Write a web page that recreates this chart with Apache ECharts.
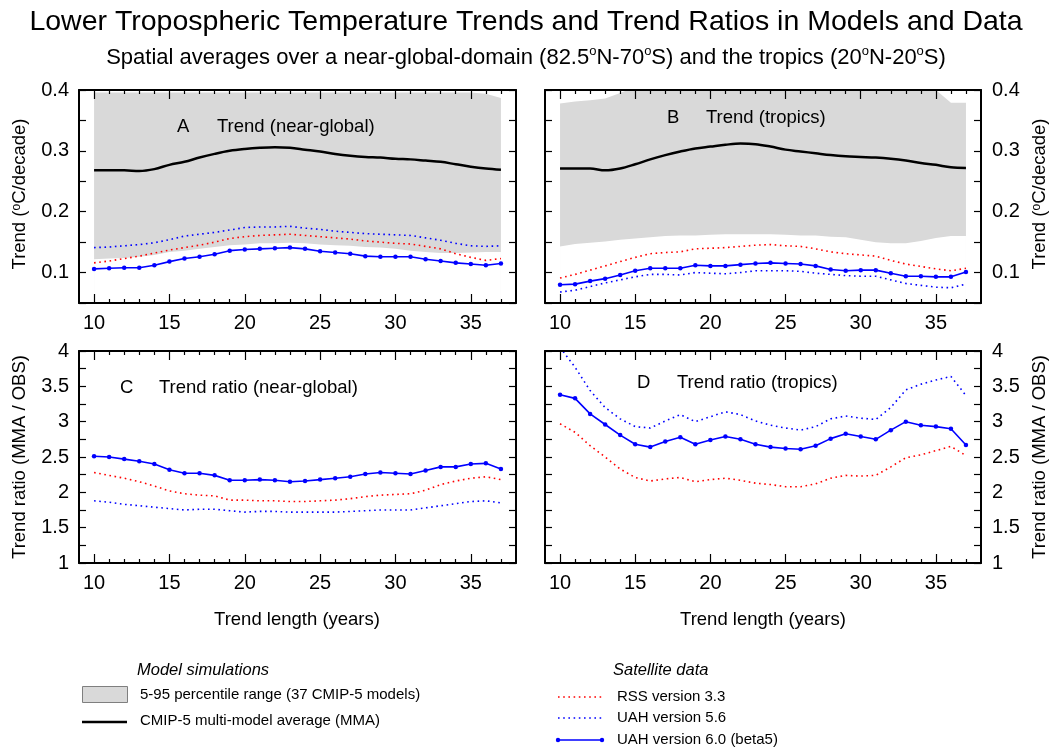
<!DOCTYPE html>
<html>
<head>
<meta charset="utf-8">
<script src="https://cdn.jsdelivr.net/npm/echarts@6/dist/echarts.min.js"></script>
<style>
html,body{margin:0;padding:0;background:#fff;}
#chart{width:1052px;height:748px;}
</style>
</head>
<body>
<div id="chart"></div>
<script>
// ---------------- data ----------------
const years = [10,11,12,13,14,15,16,17,18,19,20,21,22,23,24,25,26,27,28,29,30,31,32,33,34,35,36,37];
const xMajorTicks = [10,15,20,25,30,35];
const trendTicks = [0.05,0.1,0.15,0.2,0.25,0.3,0.35,0.4];
const trendLabels = [0.1,0.2,0.3,0.4];
const ratioTicks = [1,1.25,1.5,1.75,2,2.25,2.5,2.75,3,3.25,3.5,3.75,4];
const ratioLabels = [1,1.5,2,2.5,3,3.5,4];

// Panel A: near-global trends (degC/decade)
const globalMMA   = [0.268,0.268,0.268,0.267,0.270,0.277,0.282,0.289,0.295,0.300,0.303,0.305,0.306,0.305,0.302,0.299,0.295,0.292,0.290,0.289,0.287,0.286,0.284,0.282,0.278,0.274,0.271,0.269];
const globalUpper = [0.396,0.396,0.396,0.396,0.396,0.396,0.396,0.396,0.396,0.396,0.396,0.396,0.396,0.396,0.396,0.396,0.396,0.396,0.396,0.396,0.396,0.396,0.396,0.396,0.396,0.396,0.394,0.387];
const globalLower = [0.122,0.123,0.124,0.126,0.129,0.134,0.136,0.139,0.142,0.145,0.146,0.148,0.148,0.149,0.148,0.146,0.145,0.144,0.142,0.141,0.139,0.136,0.134,0.132,0.132,0.133,0.134,0.134];
const globalRSS   = [0.116,0.119,0.123,0.127,0.132,0.137,0.141,0.145,0.150,0.156,0.159,0.161,0.162,0.163,0.161,0.159,0.157,0.155,0.152,0.150,0.148,0.147,0.143,0.139,0.131,0.125,0.120,0.123];
const globalUAH56 = [0.141,0.142,0.144,0.146,0.149,0.154,0.160,0.163,0.166,0.170,0.174,0.175,0.175,0.176,0.173,0.171,0.168,0.166,0.164,0.163,0.162,0.161,0.157,0.153,0.148,0.144,0.143,0.144];
const globalUAH60 = [0.106,0.107,0.108,0.108,0.112,0.118,0.123,0.126,0.130,0.136,0.138,0.139,0.140,0.141,0.139,0.135,0.133,0.131,0.127,0.126,0.126,0.126,0.122,0.119,0.116,0.114,0.112,0.115];

// Panel B: tropical trends (degC/decade)
const tropMMA   = [0.271,0.271,0.271,0.268,0.271,0.278,0.286,0.293,0.299,0.304,0.307,0.310,0.312,0.311,0.307,0.302,0.299,0.296,0.293,0.291,0.290,0.289,0.287,0.284,0.280,0.277,0.273,0.272];
const tropUpper = [0.378,0.381,0.383,0.386,0.395,0.405,0.405,0.405,0.405,0.405,0.405,0.405,0.405,0.405,0.405,0.405,0.405,0.405,0.405,0.405,0.405,0.405,0.405,0.405,0.405,0.400,0.379,0.379];
const tropLower = [0.143,0.147,0.149,0.151,0.154,0.156,0.158,0.160,0.161,0.161,0.162,0.163,0.163,0.163,0.163,0.162,0.161,0.161,0.159,0.158,0.154,0.150,0.148,0.148,0.152,0.157,0.160,0.160];
const tropRSS   = [0.091,0.097,0.104,0.111,0.118,0.125,0.131,0.133,0.134,0.139,0.140,0.141,0.143,0.145,0.146,0.144,0.143,0.139,0.134,0.131,0.129,0.127,0.120,0.114,0.110,0.106,0.103,0.107];
const tropUAH56 = [0.068,0.071,0.077,0.083,0.088,0.093,0.097,0.097,0.096,0.100,0.099,0.098,0.100,0.103,0.103,0.103,0.102,0.099,0.097,0.095,0.094,0.094,0.088,0.082,0.079,0.076,0.075,0.081];
const tropUAH60 = [0.080,0.081,0.086,0.090,0.096,0.103,0.107,0.107,0.107,0.112,0.111,0.111,0.113,0.115,0.116,0.115,0.114,0.111,0.105,0.103,0.104,0.104,0.099,0.094,0.094,0.093,0.093,0.101];

// Panel C: near-global trend ratios (MMA / OBS)
const globalRatioRSS   = [2.28,2.24,2.20,2.15,2.09,2.02,1.98,1.96,1.95,1.89,1.89,1.88,1.88,1.87,1.87,1.88,1.89,1.91,1.94,1.96,1.97,1.98,2.03,2.11,2.16,2.20,2.22,2.18];
const globalRatioUAH56 = [1.88,1.86,1.83,1.81,1.79,1.77,1.75,1.76,1.76,1.74,1.72,1.73,1.73,1.72,1.72,1.72,1.72,1.73,1.74,1.75,1.75,1.75,1.78,1.81,1.84,1.87,1.88,1.85];
const globalRatioUAH60 = [2.51,2.50,2.47,2.44,2.40,2.32,2.27,2.27,2.24,2.17,2.17,2.18,2.17,2.15,2.16,2.18,2.20,2.22,2.26,2.28,2.27,2.26,2.31,2.36,2.36,2.40,2.41,2.33];

// Panel D: tropical trend ratios (MMA / OBS)
const tropRatioRSS   = [2.97,2.85,2.66,2.50,2.33,2.21,2.16,2.19,2.21,2.15,2.18,2.20,2.17,2.13,2.11,2.08,2.08,2.12,2.20,2.24,2.23,2.24,2.36,2.49,2.53,2.59,2.65,2.52];
const tropRatioUAH56 = [4.05,3.77,3.44,3.20,3.04,2.93,2.91,3.01,3.10,3.00,3.07,3.14,3.10,3.01,2.95,2.91,2.88,2.93,3.04,3.08,3.05,3.03,3.20,3.45,3.53,3.59,3.64,3.37];
const tropRatioUAH60 = [3.38,3.33,3.11,2.96,2.81,2.68,2.64,2.72,2.78,2.68,2.74,2.79,2.75,2.68,2.64,2.62,2.61,2.66,2.76,2.83,2.79,2.75,2.88,3.00,2.95,2.93,2.90,2.67];

// ---------------- helpers ----------------
const FONT = "'Liberation Sans', Arial, Helvetica, sans-serif";
const BLUE = '#0000ff', RED = '#ff0000', GREY = '#d9d9d9';
const pairs = vals => years.map((y, i) => [y, vals[i]]);
const minorX = years.filter(y => y % 5 !== 0);

const grids = [
  {left: 79,  top: 90,  width: 437, height: 213},
  {left: 545, top: 90,  width: 436, height: 213},
  {left: 79,  top: 351, width: 437, height: 212},
  {left: 545, top: 351, width: 436, height: 212}
];

const xAxes = [];
const yAxes = [];
grids.forEach((g, gi) => {
  const base = {type: 'value', gridIndex: gi, min: 9, max: 38, splitLine: {show: false}, z: 5};
  xAxes.push(Object.assign({}, base, {
    position: 'bottom',
    axisLine: {show: true, onZero: false, lineStyle: {color: '#000', width: 2}},
    axisTick: {show: true, inside: true, length: 9, customValues: xMajorTicks, lineStyle: {color: '#000', width: 1.2}},
    axisLabel: {show: true, customValues: xMajorTicks, margin: 10, fontSize: 20, color: '#000', fontFamily: FONT}
  }));
  xAxes.push(Object.assign({}, base, {
    position: 'bottom',
    axisLine: {show: false, onZero: false},
    axisTick: {show: true, inside: true, length: 4, customValues: minorX, lineStyle: {color: '#000', width: 1.2}},
    axisLabel: {show: false}
  }));
  xAxes.push(Object.assign({}, base, {
    position: 'top',
    axisLine: {show: true, onZero: false, lineStyle: {color: '#000', width: 2}},
    axisTick: {show: true, inside: true, length: 9, customValues: xMajorTicks, lineStyle: {color: '#000', width: 1.2}},
    axisLabel: {show: false}
  }));
  xAxes.push(Object.assign({}, base, {
    position: 'top',
    axisLine: {show: false, onZero: false},
    axisTick: {show: true, inside: true, length: 4, customValues: minorX, lineStyle: {color: '#000', width: 1.2}},
    axisLabel: {show: false}
  }));

  const isTrend = gi < 2;
  const labelLeft = (gi % 2 === 0);
  const ticks = isTrend ? trendTicks : ratioTicks;
  const labels = isTrend ? trendLabels : ratioLabels;
  const ybase = {
    type: 'value', gridIndex: gi, z: 5,
    min: isTrend ? 0.05 : 1, max: isTrend ? 0.4 : 4,
    splitLine: {show: false}
  };
  const fmt = v => isTrend ? v.toFixed(1) : String(v);
  yAxes.push(Object.assign({}, ybase, {
    position: 'left',
    axisLine: {show: true, onZero: false, lineStyle: {color: '#000', width: 2}},
    axisTick: {show: true, inside: true, length: 7, customValues: ticks, lineStyle: {color: '#000', width: 1.2}},
    axisLabel: {show: labelLeft, customValues: labels, formatter: fmt, margin: 10, fontSize: 20, color: '#000', fontFamily: FONT}
  }));
  yAxes.push(Object.assign({}, ybase, {
    position: 'right',
    axisLine: {show: true, onZero: false, lineStyle: {color: '#000', width: 2}},
    axisTick: {show: true, inside: true, length: 7, customValues: ticks, lineStyle: {color: '#000', width: 1.2}},
    axisLabel: {show: !labelLeft, customValues: labels, formatter: fmt, margin: 11, fontSize: 20, color: '#000', fontFamily: FONT}
  }));
});

const series = [];
// 5-95 % band: grey area below the upper edge, then white area below the lower edge
function band(gi, lower, upper, name) {
  series.push({
    type: 'line', name: name, xAxisIndex: gi * 4, yAxisIndex: gi * 2,
    data: pairs(upper), symbol: 'none', silent: true,
    lineStyle: {opacity: 0}, areaStyle: {color: GREY, opacity: 1, origin: 'start'}, z: 1
  });
  series.push({
    type: 'line', name: name + ' (lower edge)', xAxisIndex: gi * 4, yAxisIndex: gi * 2,
    data: pairs(lower), symbol: 'none', silent: true,
    lineStyle: {opacity: 0}, areaStyle: {color: '#ffffff', opacity: 1, origin: 'start'}, z: 1
  });
}
function mma(gi, vals) {
  series.push({
    type: 'line', name: 'CMIP-5 multi-model average (MMA)', xAxisIndex: gi * 4, yAxisIndex: gi * 2,
    data: pairs(vals), symbol: 'none', smooth: 0.35, lineStyle: {color: '#000', width: 2.5}, z: 3
  });
}
function dotted(gi, vals, color, name) {
  series.push({
    type: 'line', name: name, xAxisIndex: gi * 4, yAxisIndex: gi * 2,
    data: pairs(vals), symbol: 'none',
    lineStyle: {color: color, width: 1.6, type: [1.6, 3.6], cap: 'butt'}, z: 3
  });
}
function solid(gi, vals, name) {
  series.push({
    type: 'line', name: name, xAxisIndex: gi * 4, yAxisIndex: gi * 2,
    data: pairs(vals), symbol: 'circle', symbolSize: 4.5, showSymbol: true,
    itemStyle: {color: BLUE}, lineStyle: {color: BLUE, width: 1.6}, z: 4
  });
}

band(0, globalLower, globalUpper, '5-95 percentile range');
mma(0, globalMMA);
dotted(0, globalRSS, RED, 'RSS version 3.3');
dotted(0, globalUAH56, BLUE, 'UAH version 5.6');
solid(0, globalUAH60, 'UAH version 6.0 (beta5)');

band(1, tropLower, tropUpper, '5-95 percentile range');
mma(1, tropMMA);
dotted(1, tropRSS, RED, 'RSS version 3.3');
dotted(1, tropUAH56, BLUE, 'UAH version 5.6');
solid(1, tropUAH60, 'UAH version 6.0 (beta5)');

dotted(2, globalRatioRSS, RED, 'RSS version 3.3');
dotted(2, globalRatioUAH56, BLUE, 'UAH version 5.6');
solid(2, globalRatioUAH60, 'UAH version 6.0 (beta5)');

dotted(3, tropRatioRSS, RED, 'RSS version 3.3');
dotted(3, tropRatioUAH56, BLUE, 'UAH version 5.6');
solid(3, tropRatioUAH60, 'UAH version 6.0 (beta5)');

// ---------------- texts ----------------
const supRich = size => ({s: {fontSize: size, fontFamily: FONT, fill: '#000', color: '#000', verticalAlign: 'top', lineHeight: size + 2}});
function txt(x, y, text, opts) {
  opts = opts || {};
  return {
    type: 'text', x: x, y: y, rotation: opts.rotation || 0, z: 20,
    style: {
      text: text, fill: '#000',
      font: (opts.italic ? 'italic ' : '') + (opts.size || 18) + 'px ' + FONT,
      align: opts.align || 'left', verticalAlign: 'middle',
      rich: opts.rich
    }
  };
}

const graphics = [
  txt(20, 194, 'Trend ({s|o}C/decade)', {size: 18.5, align: 'center', rotation: Math.PI / 2, rich: supRich(12)}),
  txt(1040, 194, 'Trend ({s|o}C/decade)', {size: 18.5, align: 'center', rotation: Math.PI / 2, rich: supRich(12)}),
  txt(20, 457, 'Trend ratio (MMA / OBS)', {size: 18.5, align: 'center', rotation: Math.PI / 2}),
  txt(1040, 457, 'Trend ratio (MMA / OBS)', {size: 18.5, align: 'center', rotation: Math.PI / 2}),
  txt(297, 620, 'Trend length (years)', {size: 18.5, align: 'center'}),
  txt(763, 620, 'Trend length (years)', {size: 18.5, align: 'center'}),
  txt(177, 127, 'A', {size: 18.5}), txt(217, 127, 'Trend (near-global)', {size: 18.5}),
  txt(667, 118, 'B', {size: 18.5}), txt(706, 118, 'Trend (tropics)', {size: 18.5}),
  txt(120, 388, 'C', {size: 18.5}), txt(159, 388, 'Trend ratio (near-global)', {size: 18.5}),
  txt(637, 383, 'D', {size: 18.5}), txt(677, 383, 'Trend ratio (tropics)', {size: 18.5}),
  txt(137, 670, 'Model simulations', {size: 16.5, italic: true}),
  {type: 'rect', shape: {x: 82.5, y: 686.5, width: 45, height: 16}, style: {fill: GREY, stroke: '#7f7f7f', lineWidth: 1}, z: 20},
  txt(140, 695, '5-95 percentile range (37 CMIP-5 models)', {size: 15}),
  {type: 'line', shape: {x1: 82, y1: 722, x2: 127, y2: 722}, style: {stroke: '#000', lineWidth: 2.5}, z: 20},
  txt(140, 721, 'CMIP-5 multi-model average (MMA)', {size: 15}),
  txt(613, 670, 'Satellite data', {size: 16.5, italic: true}),
  {type: 'line', shape: {x1: 558, y1: 697, x2: 602, y2: 697}, style: {stroke: RED, lineWidth: 1.6, lineDash: [1.6, 3.6]}, z: 20},
  txt(617, 697, 'RSS version 3.3', {size: 15}),
  {type: 'line', shape: {x1: 558, y1: 718, x2: 602, y2: 718}, style: {stroke: BLUE, lineWidth: 1.6, lineDash: [1.6, 3.6]}, z: 20},
  txt(617, 718, 'UAH version 5.6', {size: 15}),
  {type: 'line', shape: {x1: 558, y1: 740, x2: 602, y2: 740}, style: {stroke: BLUE, lineWidth: 1.6}, z: 20},
  {type: 'circle', shape: {cx: 558, cy: 740, r: 2.2}, style: {fill: BLUE}, z: 21},
  {type: 'circle', shape: {cx: 602, cy: 740, r: 2.2}, style: {fill: BLUE}, z: 21},
  txt(617, 740, 'UAH version 6.0 (beta5)', {size: 15})
];

const chart = echarts.init(document.getElementById('chart'), null, {renderer: 'canvas'});
chart.setOption({
  backgroundColor: '#fff',
  animation: false,
  textStyle: {fontFamily: FONT},
  title: [
    {text: 'Lower Tropospheric Temperature Trends and Trend Ratios in Models and Data', left: 'center', top: 3,
     textStyle: {fontSize: 28.5, fontWeight: 'normal', color: '#000', fontFamily: FONT}},
    {text: 'Spatial averages over a near-global-domain (82.5{s|o}N-70{s|o}S) and the tropics (20{s|o}N-20{s|o}S)',
     left: 'center', top: 40,
     textStyle: {fontSize: 22, fontWeight: 'normal', color: '#000', fontFamily: FONT, lineHeight: 26,
       rich: {s: {fontSize: 13, color: '#000', fontFamily: FONT, verticalAlign: 'top', lineHeight: 15}}}}
  ],
  grid: grids,
  xAxis: xAxes,
  yAxis: yAxes,
  series: series,
  graphic: graphics
});
</script>
</body>
</html>
